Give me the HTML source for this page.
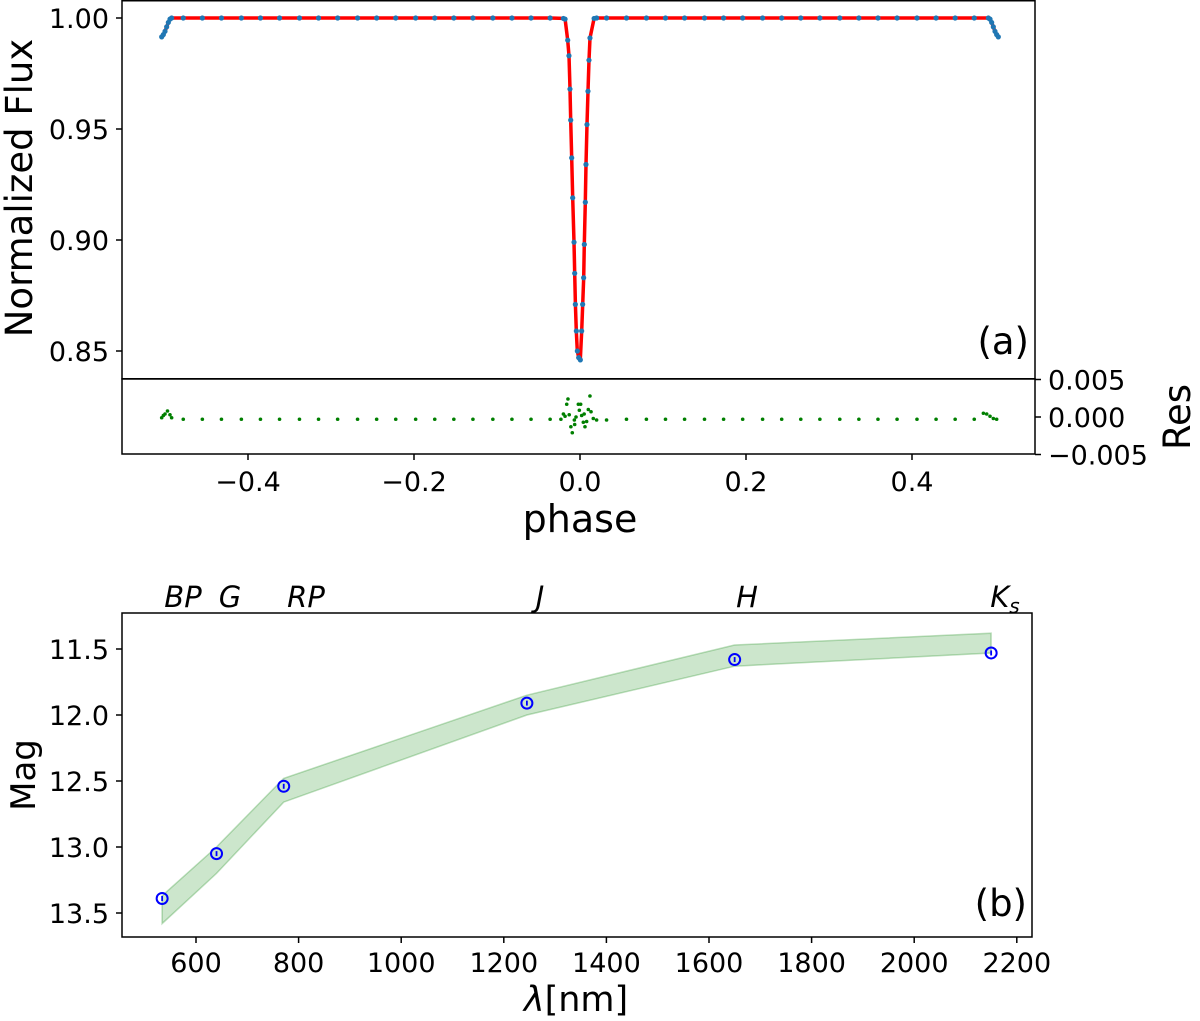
<!DOCTYPE html>
<html><head><meta charset="utf-8"><style>
html,body{margin:0;padding:0;background:#fff}
svg{display:block;font-family:"DejaVu Sans","Liberation Sans",sans-serif}
</style></head><body>
<svg id="fig" width="1200" height="1021" viewBox="0 0 1200 1021" xmlns="http://www.w3.org/2000/svg">
<g id="gtop"></g>
<g id="gres"></g>
<g id="gbot"></g>
</svg>
<script>
// ---- light curve data ----
const lcPhase = [-0.504,-0.502,-0.500,-0.498,-0.496,-0.494,-0.492,
 -0.478,-0.455,-0.432,-0.408,-0.385,-0.362,-0.338,-0.315,-0.292,-0.268,-0.245,-0.222,-0.198,-0.175,-0.152,-0.129,-0.105,-0.082,-0.059,-0.036,
 -0.020,-0.018,-0.0148,-0.0133,-0.0121,-0.0112,-0.0100,-0.0088,-0.0072,-0.0064,-0.0056,-0.0044,-0.0032,-0.0016,
 0.0004,0.0020,0.0032,0.0044,0.0052,0.0064,0.0072,0.0084,0.0096,0.0108,0.0120,0.017,0.020,
 0.032,0.056,0.080,0.103,0.126,0.150,0.173,0.196,0.220,0.243,0.266,0.289,0.313,0.336,0.359,0.382,0.406,0.429,0.452,0.475,
 0.492,0.494,0.496,0.498,0.500,0.502,0.504];
const lcFlux = [0.9915,0.9925,0.994,0.996,0.998,0.9995,1.0,
 1,1,1,1,1,1,1,1,1,1,1,1,1,1,1,1,1,1,1,1,
 0.9998,0.9995,0.990,0.983,0.968,0.954,0.937,0.919,0.899,0.885,0.871,0.859,0.850,0.847,
 0.846,0.859,0.871,0.883,0.898,0.917,0.934,0.952,0.967,0.981,0.991,0.9998,1.0,
 1,1,1,1,1,1,1,1,1,1,1,1,1,1,1,1,1,1,1,1,
 1.0,0.9995,0.998,0.996,0.994,0.9925,0.9915];
const resPhase = [-0.504,-0.502,-0.500,-0.497,-0.494,-0.492,
 -0.478,-0.455,-0.432,-0.408,-0.385,-0.362,-0.338,-0.315,-0.292,-0.268,-0.245,-0.222,-0.198,-0.175,-0.152,-0.129,-0.105,-0.082,-0.059,-0.036,
 -0.023,-0.020,-0.018,-0.016,-0.0145,-0.013,-0.011,-0.0093,-0.0068,-0.0064,-0.0048,-0.002,-0.0008,0.0008,0.002,0.004,0.005,0.006,0.008,0.010,0.012,0.0133,0.016,0.020,
 0.032,0.056,0.080,0.103,0.126,0.150,0.173,0.196,0.220,0.243,0.266,0.289,0.313,0.336,0.359,0.382,0.406,0.429,0.452,0.475,
 0.486,0.490,0.494,0.498,0.502];
const resVal = [-0.0001,0.0002,0.0004,0.0008,0.0003,-0.0001,
 -0.0003,-0.0003,-0.0003,-0.0003,-0.0003,-0.0003,-0.0003,-0.0003,-0.0003,-0.0003,-0.0003,-0.0003,-0.0003,-0.0003,-0.0003,-0.0003,-0.0003,-0.0003,-0.0003,-0.0003,
 -0.0003,0.0004,0.0001,0.0017,0.0024,0.0003,-0.0013,-0.0021,-0.0004,-0.001,0.0,0.0017,0.0009,0.0017,0.0002,-0.0007,0.0004,-0.0013,-0.0006,0.001,0.0028,0.0007,-0.0002,-0.0004,
 -0.0004,-0.0003,-0.0003,-0.0003,-0.0003,-0.0003,-0.0003,-0.0003,-0.0003,-0.0003,-0.0003,-0.0003,-0.0003,-0.0003,-0.0003,-0.0003,-0.0003,-0.0003,-0.0003,-0.0003,
 0.0005,0.0004,0.0001,-0.0002,-0.0003];
const phaseTicks = [-0.4,-0.2,0.0,0.2,0.4];
const phaseTickLabels = ["\u22120.4","\u22120.2","0.0","0.2","0.4"];
const fluxTicks = [1.00,0.95,0.90,0.85];
const fluxTickLabels = ["1.00","0.95","0.90","0.85"];
const resTicks = [0.005,0,-0.005];
const resTickLabels = ["0.005","0.000","\u22120.005"];
// ---- SED data ----
const bandNames = ["BP","G","RP","J","H","K"];
const bandWave = [534,640,771,1245,1650,2150];
const bandMag = [13.39,13.05,12.54,11.91,11.58,11.53];
const modelUpper = [13.37,13.0,12.48,11.85,11.47,11.38];
const modelLower = [13.58,13.2,12.66,12.0,11.63,11.53];
const waveTicks = [600,800,1000,1200,1400,1600,1800,2000,2200];
const magTicks = [11.5,12.0,12.5,13.0,13.5];
const magTickLabels = ["11.5","12.0","12.5","13.0","13.5"];

const NS="http://www.w3.org/2000/svg";
function mk(parent,tag,attrs,text){const e=document.createElementNS(NS,tag);for(const k in attrs)e.setAttribute(k,attrs[k]);if(text!==undefined)e.textContent=text;parent.appendChild(e);return e;}

const L=122,R=1035;
const TF=27;
const xP = p => 580 + p*830;
const yF = f => 18 + (1-f)*2220;
const yR = r => 417 - r*7500;
const xW = w => 196 + (w-600)*0.513;
const yM = m => 649 + (m-11.5)*132;

const gTop=document.getElementById('gtop');
const gRes=document.getElementById('gres');
const gBot=document.getElementById('gbot');

let d=lcPhase.map((p,i)=>(i?'L':'M')+xP(p).toFixed(1)+','+yF(lcFlux[i]).toFixed(1)).join(' ');
let ln=mk(gTop,'path',{d:d,fill:'none',stroke:'#ff0000','stroke-width':3.5,'stroke-linejoin':'round'});


lcPhase.forEach((p,i)=>{
  const c=mk(gTop,'circle',{cx:xP(p),cy:yF(lcFlux[i]),r:2.6,fill:'#1f77b4'});
  
  
});
let fr=mk(gTop,'rect',{x:L,y:0.75,width:R-L,height:378,fill:'none',stroke:'#000','stroke-width':1.5});


fluxTicks.forEach((v,i)=>{
  mk(gTop,'line',{x1:L-6,x2:L,y1:yF(v),y2:yF(v),stroke:'#000','stroke-width':1.5});
  const t=mk(gTop,'text',{x:L-13,y:yF(v)+10,'font-size':TF,'text-anchor':'end'},fluxTickLabels[i]);
  
  
});
let yl=mk(gTop,'text',{transform:'translate(32,188) rotate(-90)','font-size':37,'text-anchor':'middle'},'Normalized Flux');


let pa=mk(gTop,'text',{x:1029,y:354,'font-size':37,'text-anchor':'end'},'(a)');



resPhase.forEach((p,i)=>{
  const c=mk(gRes,'circle',{cx:xP(p),cy:yR(resVal[i]),r:1.8,fill:'#007f00'});
  
  
});
let rf=mk(gRes,'rect',{x:L,y:379,width:R-L,height:75,fill:'none',stroke:'#000','stroke-width':1.5});


resTicks.forEach((v,i)=>{
  mk(gRes,'line',{x1:R,x2:R+6,y1:yR(v),y2:yR(v),stroke:'#000','stroke-width':1.5});
  const t=mk(gRes,'text',{x:R+13,y:yR(v)+10,'font-size':TF},resTickLabels[i]);
  
  
});
phaseTicks.forEach((v,i)=>{
  mk(gRes,'line',{x1:xP(v),x2:xP(v),y1:454,y2:460,stroke:'#000','stroke-width':1.5});
  const t=mk(gRes,'text',{x:xP(v),y:491,'font-size':TF,'text-anchor':'middle'},phaseTickLabels[i]);
  
  
});
let rl=mk(gRes,'text',{transform:'translate(1190,417) rotate(-90)','font-size':37,'text-anchor':'middle'},'Res');


let xl=mk(gRes,'text',{x:580,y:532,'font-size':38,'text-anchor':'middle'},'phase');



let bd='M'+bandWave.map((w,i)=>xW(w).toFixed(1)+','+yM(modelUpper[i]).toFixed(1)).join(' L')+' L'+
  bandWave.slice().reverse().map((w,j)=>{const i=bandWave.length-1-j;return xW(w).toFixed(1)+','+yM(modelLower[i]).toFixed(1);}).join(' L')+' Z';
let band=mk(gBot,'path',{d:bd,fill:'rgba(0,128,0,0.2)',stroke:'rgba(0,128,0,0.25)','stroke-width':1.5});


bandWave.forEach((w,i)=>{
  const c=mk(gBot,'circle',{cx:xW(w),cy:yM(bandMag[i]),r:5.5,fill:'none',stroke:'#0000ff','stroke-width':2});
  
  
  mk(gBot,'line',{x1:xW(w),x2:xW(w),y1:yM(bandMag[i])-2.5,y2:yM(bandMag[i])+2.5,stroke:'#0000ff','stroke-width':1.8});
});
const bandLabelX=[183,230,306,540,747,1005];
bandNames.forEach((n,i)=>{
  const t=mk(gBot,'text',{x:bandLabelX[i],y:607,'font-size':29,'font-style':'italic','text-anchor':'middle'},n);
  if(n==='K'){mk(t,'tspan',{'font-size':20,dy:6},'s');}
  
  
});
let bf=mk(gBot,'rect',{x:L,y:613,width:R-L-3,height:324,fill:'none',stroke:'#000','stroke-width':1.5});


waveTicks.forEach(v=>{
  mk(gBot,'line',{x1:xW(v),x2:xW(v),y1:937,y2:943,stroke:'#000','stroke-width':1.5});
  const t=mk(gBot,'text',{x:xW(v),y:972,'font-size':TF,'text-anchor':'middle'},String(v));
  
  
});
magTicks.forEach((v,i)=>{
  mk(gBot,'line',{x1:L-6,x2:L,y1:yM(v),y2:yM(v),stroke:'#000','stroke-width':1.5});
  const t=mk(gBot,'text',{x:L-13,y:yM(v)+10,'font-size':TF,'text-anchor':'end'},magTickLabels[i]);
  
  
});
let ml=mk(gBot,'text',{transform:'translate(35,775) rotate(-90)','font-size':34,'text-anchor':'middle'},'Mag');


let wl=mk(gBot,'text',{x:576,y:1011,'font-size':35,'text-anchor':'middle'});
mk(wl,'tspan',{'font-style':'italic'},'\u03bb');
mk(wl,'tspan',{},'[nm]');


let pb=mk(gBot,'text',{x:1027,y:916,'font-size':37,'text-anchor':'end'},'(b)');


</script>
</body></html>
